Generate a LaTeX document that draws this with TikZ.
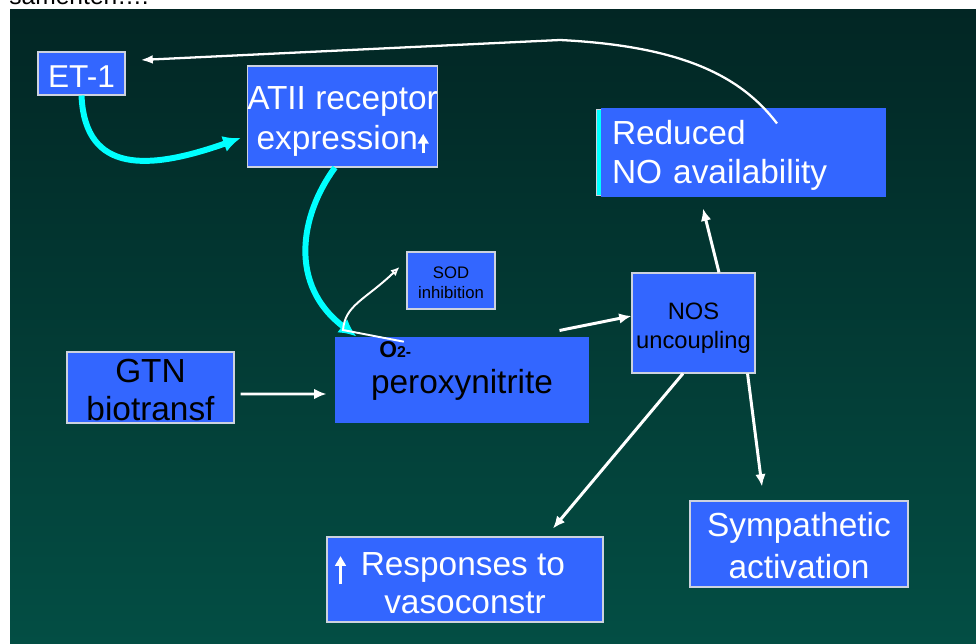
\documentclass[tikz,border=0pt]{standalone}
\usepackage{fontspec}
\setmainfont{Liberation Sans}
\usetikzlibrary{arrows.meta}

\definecolor{boxblue}{RGB}{51,102,255}
\definecolor{boxedge}{RGB}{205,210,222}
\definecolor{bgtop}{RGB}{2,38,36}
\definecolor{bgbot}{RGB}{3,78,68}
\definecolor{arrcyan}{RGB}{0,255,255}

\newcommand{\pxu}{0.02cm}
% strut that pushes a label down in its box
\newcommand{\tstrut}[1]{\rule{0pt}{#1em}}
% small white up arrow used inside the labels
\newcommand{\uparr}[2]{\tikz[baseline=#2]\draw[white,line width=1.7pt,-{Triangle[length=5.5pt,width=6pt]}] (0pt,0pt) -- (0pt,#1);}

\tikzset{
  bluebox/.style 2 args={rectangle,fill=boxblue,draw=boxedge,line width=0.6pt,
    inner sep=0pt,align=center,minimum width=#1*\pxu,minimum height=#2*\pxu},
  cyanarrow/.style={draw=arrcyan,line width=3.4pt,>={Latex[length=10pt,width=9.5pt]}},
  thinarrow/.style={draw=white,line width=1.1pt,>={Latex[length=5pt,width=4.5pt]}},
}

\begin{document}
\begin{tikzpicture}[->,>={Latex[length=7pt,width=6pt]},x=0.02cm,y=-0.02cm]

\useasboundingbox (0,0) rectangle (976,644);
\clip (0,0) rectangle (976,644);

\shade[top color=bgtop,bottom color=bgbot] (10,10) rectangle (976,644);
\node[anchor=base west,inner sep=0pt,font=\fontsize{14}{14}\selectfont] (hdr) at (9,5) {samenten….};

\node[bluebox={87}{43},text=white,font=\fontsize{18}{22}\selectfont] (et1) at (81.5,73.5) {\tstrut{0.91}ET-1};
\node[bluebox={189}{101},text=white,font=\fontsize{19}{23}\selectfont] (atii) at (342.5,116.5)
  {\tstrut{0.99}ATII receptor\\expression\uparr{11pt}{2pt}};
\draw[-,draw=boxedge,fill=arrcyan,line width=0.5pt] (596,109) rectangle (601,195);
\node[bluebox={285}{89},draw=none,text=white,font=\fontsize{19}{22.7}\selectfont,
  text width=263*\pxu,inner xsep=11*\pxu,align=left] (reduced) at (743.5,152.5)
  {\tstrut{0.9}Reduced\\NO availability};
\node[bluebox={88}{57},font=\fontsize{9.5}{11.3}\selectfont] (sod) at (451,280.5) {\tstrut{0.96}SOD\\inhibition};
\node[bluebox={254}{86},draw=none,font=\fontsize{19}{23}\selectfont] (perox) at (462,380)
  {\tstrut{1.02}peroxynitrite};
\node[anchor=base west,inner sep=0pt,font=\bfseries\fontsize{13}{13}\selectfont] (o2) at (379,358)
  {O{\fontsize{9}{9}\selectfont 2-}};
\node[bluebox={123}{100},font=\fontsize{13.5}{17}\selectfont] (nos) at (693.5,323) {\tstrut{1.14}NOS\\uncoupling};
\node[bluebox={167}{71},font=\fontsize{19}{21.5}\selectfont] (gtn) at (150.5,387.5) {\tstrut{0.84}GTN\\biotransf};
\node[bluebox={276}{85},text=white,font=\fontsize{19}{21.5}\selectfont] (resp) at (465,579.5)
  {\tstrut{0.9}\uparr{16pt}{5pt}\hspace{0.45em}Responses to\hspace*{17pt}\\vasoconstr};
\node[bluebox={218}{86},text=white,font=\fontsize{19}{24}\selectfont] (symp) at (799,544)
  {\tstrut{0.84}Sympathetic\\activation};

\path [draw,white,line width=1.3pt,>={Latex[length=7pt,width=5pt]}]
    ([xshift=0.67cm,yshift=-0.32cm]reduced.north) .. controls (740,75) and (680,46) .. (560,40)
    -- ([xshift=0.3cm,yshift=0.27cm]et1.east);

\path [cyanarrow]
    (et1.south) .. controls (85,175) and (150,170) .. ([xshift=-0.12cm,yshift=-0.43cm]atii.west);
\path [cyanarrow]
    ([xshift=-0.15cm]atii.south) .. controls (300,215) and (288,285) .. ([xshift=0.44cm]perox.north west);

\path [thinarrow]
    ([xshift=0.17cm]o2.north) -- (343,330) .. controls (345,305) and (365,300)
    .. ([xshift=-0.14cm,yshift=0.27cm]sod.west);

\path [draw,white,line width=1.7pt]
    ([xshift=0.12cm,yshift=-0.13cm]gtn.east) -- ([xshift=-0.16cm,yshift=-0.28cm]perox.west);
\path [draw,white,line width=1.7pt]
    ([xshift=-0.6cm,yshift=0.12cm]perox.north east) -- ([yshift=0.14cm]nos.west);
\path [draw,white,line width=1.7pt]
    ([xshift=-0.21cm]nos.south) -- ([xshift=1.76cm,yshift=0.16cm]resp.north);
\path [draw,white,line width=1.7pt]
    ([xshift=-0.16cm]nos.south east) -- ([xshift=-0.74cm,yshift=0.28cm]symp.north);
\path [draw,white,line width=1.7pt]
    ([xshift=0.51cm]nos.north) -- ([xshift=-0.81cm,yshift=-0.22cm]reduced.south);

\end{tikzpicture}
\end{document}
